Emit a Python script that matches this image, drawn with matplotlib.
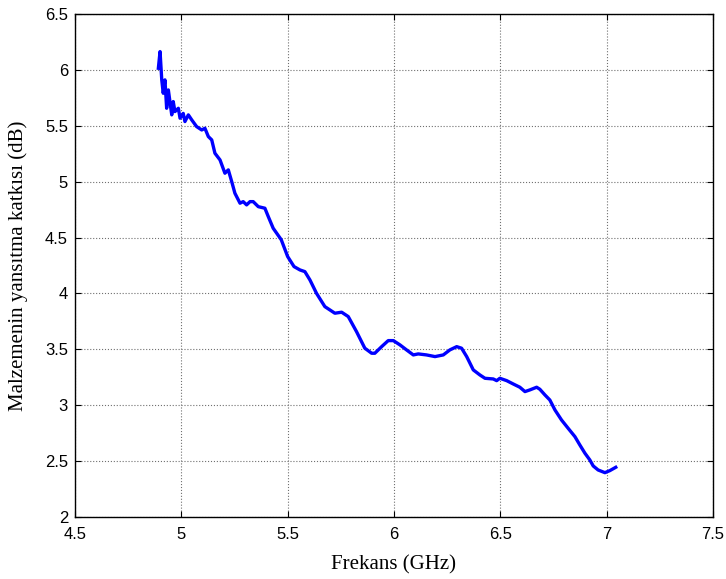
import numpy as np
import matplotlib.pyplot as plt

#%% Data:

frekans = [4.892, 4.900, 4.908, 4.915, 4.923, 4.931, 4.939, 4.955, 4.962, 4.970,
           4.986, 4.994, 5.009, 5.017, 5.033, 5.049, 5.072, 5.096, 5.111, 5.127,
           5.143, 5.158, 5.182, 5.205, 5.221, 5.237, 5.252, 5.276, 5.291, 5.307,
           5.323, 5.338, 5.362, 5.393, 5.409, 5.432, 5.470, 5.500, 5.530, 5.558,
           5.581, 5.605, 5.636, 5.675, 5.699, 5.722, 5.754, 5.785, 5.824, 5.863,
           5.895, 5.910, 5.942, 5.973, 5.997, 6.028, 6.059, 6.091, 6.114, 6.153,
           6.193, 6.232, 6.263, 6.295, 6.318, 6.342, 6.373, 6.404, 6.428, 6.467,
           6.483, 6.498, 6.530, 6.561, 6.592, 6.616, 6.639, 6.671, 6.686, 6.710,
           6.733, 6.757, 6.788, 6.819, 6.851, 6.874, 6.898, 6.921, 6.937, 6.960,
           6.992, 7.015, 7.043]

yansitma = [6.014, 6.163, 5.910, 5.790, 5.910, 5.656, 5.820, 5.597, 5.716, 5.626,
            5.656, 5.567, 5.610, 5.537, 5.597, 5.552, 5.492, 5.462, 5.477, 5.403,
            5.373, 5.254, 5.194, 5.075, 5.105, 5.000, 4.896, 4.807, 4.821, 4.792,
            4.821, 4.821, 4.776, 4.762, 4.687, 4.583, 4.480, 4.330, 4.240, 4.210,
            4.195, 4.120, 4.000, 3.882, 3.852, 3.823, 3.832, 3.793, 3.658, 3.510,
            3.465, 3.465, 3.524, 3.578, 3.578, 3.540, 3.495, 3.450, 3.459, 3.450,
            3.435, 3.450, 3.495, 3.524, 3.510, 3.435, 3.316, 3.271, 3.241, 3.235,
            3.220, 3.241, 3.220, 3.190, 3.161, 3.122, 3.137, 3.161, 3.143, 3.092,
            3.047, 2.958, 2.868, 2.794, 2.719, 2.645, 2.571, 2.511, 2.457, 2.421,
            2.397, 2.415, 2.445]

x_ticks = [4.5, 5, 5.5, 6, 6.5, 7, 7.5]
x_labels = ["4.5", "5", "5.5", "6", "6.5", "7", "7.5"]
y_ticks = [2, 2.5, 3, 3.5, 4, 4.5, 5, 5.5, 6, 6.5]
y_labels = ["2", "2.5", "3", "3.5", "4", "4.5", "5", "5.5", "6", "6.5"]

#%% Plot:

fig = plt.figure(figsize=(7.26, 5.79), dpi=100)
ax = fig.add_axes([0.1033, 0.107, 0.8787, 0.869])

ax.plot(frekans, yansitma, color="#0000ff", linewidth=2.4)

ax.set_xlim(4.5, 7.5)
ax.set_ylim(2, 6.5)
ax.set_xticks(x_ticks, x_labels, fontsize=12, family="Liberation Sans")
ax.set_yticks(y_ticks, y_labels, fontsize=12, family="Liberation Sans")
ax.tick_params(direction="in", top=True, right=True, length=4, width=0.8)
ax.tick_params(axis="x", pad=7)
ax.tick_params(axis="y", pad=5)

ax.grid(True, linestyle=":", color="#707070", linewidth=0.8)

for s in ax.spines.values():
    s.set_linewidth(1.0)

ax.set_xlabel("Frekans (GHz)", fontsize=15, family="Liberation Serif", labelpad=10)
ax.set_ylabel("Malzemenin yansıtma katkısı (dB)", fontsize=15,
              family="Liberation Serif", labelpad=12)

plt.savefig("out.png", dpi=100)
